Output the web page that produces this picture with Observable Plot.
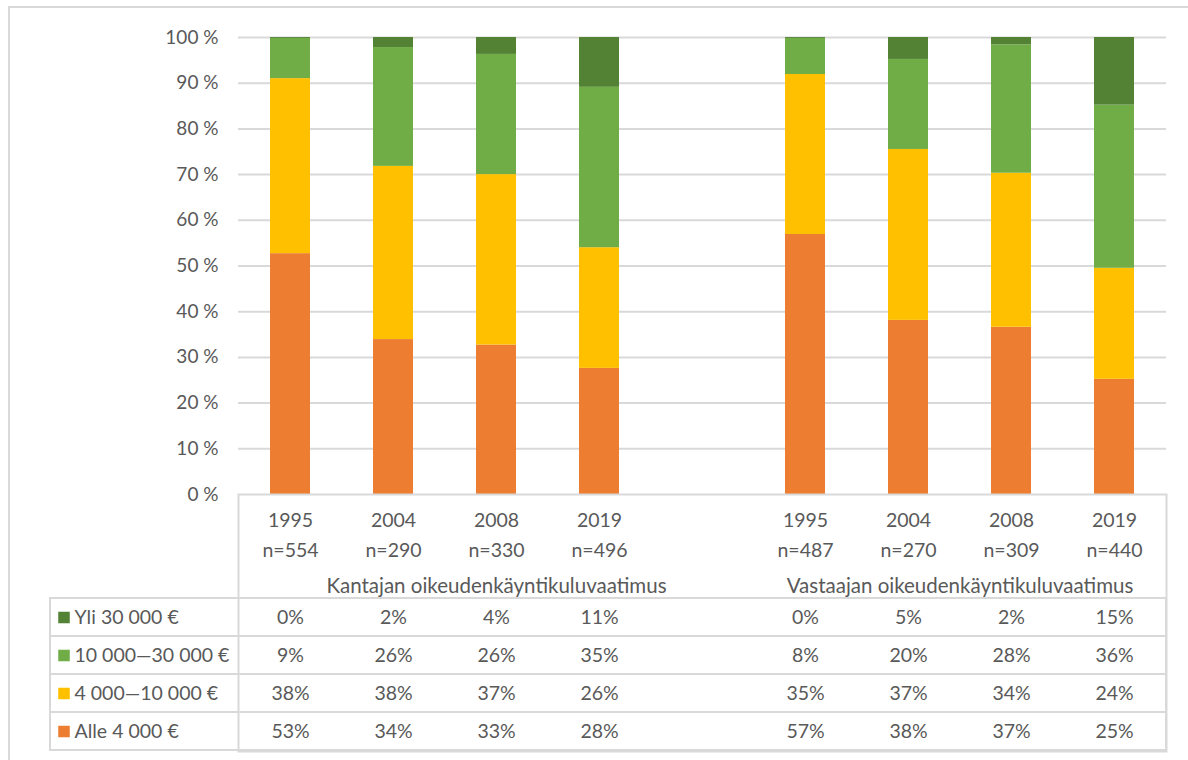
<!DOCTYPE html>
<html>
<head>
<meta charset="utf-8">
<script src="https://cdn.jsdelivr.net/npm/d3@7"></script>
<script src="https://cdn.jsdelivr.net/npm/@observablehq/plot@0.6"></script>
<style>
  html, body { margin: 0; padding: 0; background: #fff; overflow: hidden; }
  #border { position: absolute; left: 8px; top: 6px; width: 1180px; height: 754px; box-sizing: border-box;
            border-left: 2px solid #d9d9d9; border-top: 2px solid #d9d9d9; }
  #chart { position: absolute; left: 0; top: 0; width: 1188px; }
  #chart svg { display: block; }
</style>
</head>
<body>
<div id="border"></div>
<div id="chart"></div>
<script>
// ---- data ----
const years = ["1995", "2004", "2008", "2019"];
const groupNames = ["Kantajan oikeudenkäyntikuluvaatimus", "Vastaajan oikeudenkäyntikuluvaatimus"];
const nKantajan = [554, 290, 330, 496];
const nVastaajan = [487, 270, 309, 440];
const series = ["Alle 4 000 €", "4 000—10 000 €", "10 000—30 000 €", "Yli 30 000 €"];
const colors = ["#ED7D31", "#FFC000", "#70AD47", "#548235"];

// Kantajan (plaintiff) shares, %
const kAlle   = [52.7, 33.9, 32.7, 27.6];
const k4_10   = [38.3, 37.9, 37.3, 26.4];
const k10_30  = [8.8, 26.0, 26.3, 35.1];
const kYli    = [0.2, 2.2, 3.7, 10.9];
// Vastaajan (defendant) shares, %
const vAlle   = [56.9, 38.1, 36.6, 25.2];
const v4_10   = [35.0, 37.4, 33.7, 24.3];
const v10_30  = [7.9, 19.7, 28.1, 35.7];
const vYli    = [0.2, 4.8, 1.6, 14.8];

const yTicks = [0, 10, 20, 30, 40, 50, 60, 70, 80, 90, 100];

// ---- build tables ----
const kCols = years.map(y => "K" + y);
const vCols = years.map(y => "V" + y);
const colKeys = [...kCols, "gap", ...vCols];

const header = [
  ...years.map((y, i) => ({col: kCols[i], year: y, n: nKantajan[i]})),
  ...years.map((y, i) => ({col: vCols[i], year: y, n: nVastaajan[i]}))
];

const kSeries = [kAlle, k4_10, k10_30, kYli];
const vSeries = [vAlle, v4_10, v10_30, vYli];
const rows = [];
series.forEach((s, si) => {
  years.forEach((y, i) => {
    rows.push({col: kCols[i], series: s, value: kSeries[si][i]});
    rows.push({col: vCols[i], series: s, value: vSeries[si][i]});
  });
});
const seriesTopDown = series.slice().reverse();

// ---- layout ----
const W = 1188, ML = 238, MR = 22;
const step = (W - ML - MR) / colKeys.length;
const font = "Lato, 'Open Sans', sans-serif";
const textColor = "#595959";
const lineColor = "#d9d9d9";
const xScale = {type: "band", domain: colKeys, paddingInner: 0.61, paddingOuter: 0.305, axis: null};

const main = Plot.plot({
  width: W, height: 510,
  marginTop: 37, marginBottom: 16, marginLeft: ML, marginRight: MR,
  style: {fontFamily: font, fontSize: "19px", color: textColor, background: "transparent", overflow: "visible"},
  x: xScale,
  y: {domain: [0, 100], axis: null},
  color: {domain: series, range: colors},
  marks: [
    Plot.gridY(yTicks.filter(t => t > 0), {stroke: lineColor, strokeOpacity: 1, strokeWidth: 2}),
    Plot.axisY(yTicks, {tickSize: 0, tickPadding: 20, tickFormat: d => d + " %", label: null, fontSize: 19}),
    Plot.barY(rows, {x: "col", y: "value", fill: "series", order: series})
  ]
});

const table = Plot.plot({
  width: W, height: 276,
  marginTop: 113, marginBottom: 9, marginLeft: ML, marginRight: MR,
  style: {fontFamily: font, fontSize: "19px", color: textColor, background: "transparent", overflow: "visible"},
  x: xScale,
  y: {type: "band", domain: seriesTopDown, padding: 0, axis: null},
  color: {domain: series, range: colors},
  marks: [
    Plot.cell(seriesTopDown, {y: d => d, fill: "none", stroke: lineColor, strokeWidth: 2, insetLeft: -(ML - 50)}),
    Plot.frame({stroke: lineColor, strokeWidth: 2, insetTop: -103}),
    Plot.text(header, {x: "col", text: "year", frameAnchor: "top", dy: -84, fontSize: 19.5}),
    Plot.text(header, {x: "col", text: d => "n=" + d.n, frameAnchor: "top", dy: -54, fontSize: 19.5}),
    Plot.text([groupNames[0]], {x: () => kCols[2], text: d => d, frameAnchor: "top", dy: -19, fontSize: 20.5}),
    Plot.text([groupNames[1]], {x: () => vCols[1], text: d => d, frameAnchor: "top", dy: -19, dx: step / 2, fontSize: 20.5}),
    Plot.text(rows, {x: "col", y: "series", text: d => Math.round(d.value) + "%", fontSize: 19.5}),
    Plot.dot(seriesTopDown, {y: d => d, fill: d => d, symbol: "square", r: 6.5, frameAnchor: "left", dx: -(ML - 63.5)}),
    Plot.text(seriesTopDown, {y: d => d, text: d => d, frameAnchor: "left", textAnchor: "start", dx: -(ML - 74), fontSize: 19.5})
  ]
});
table.style.marginTop = "-26px";

const el = document.getElementById("chart");
el.appendChild(main);
el.appendChild(table);
</script>
</body>
</html>
